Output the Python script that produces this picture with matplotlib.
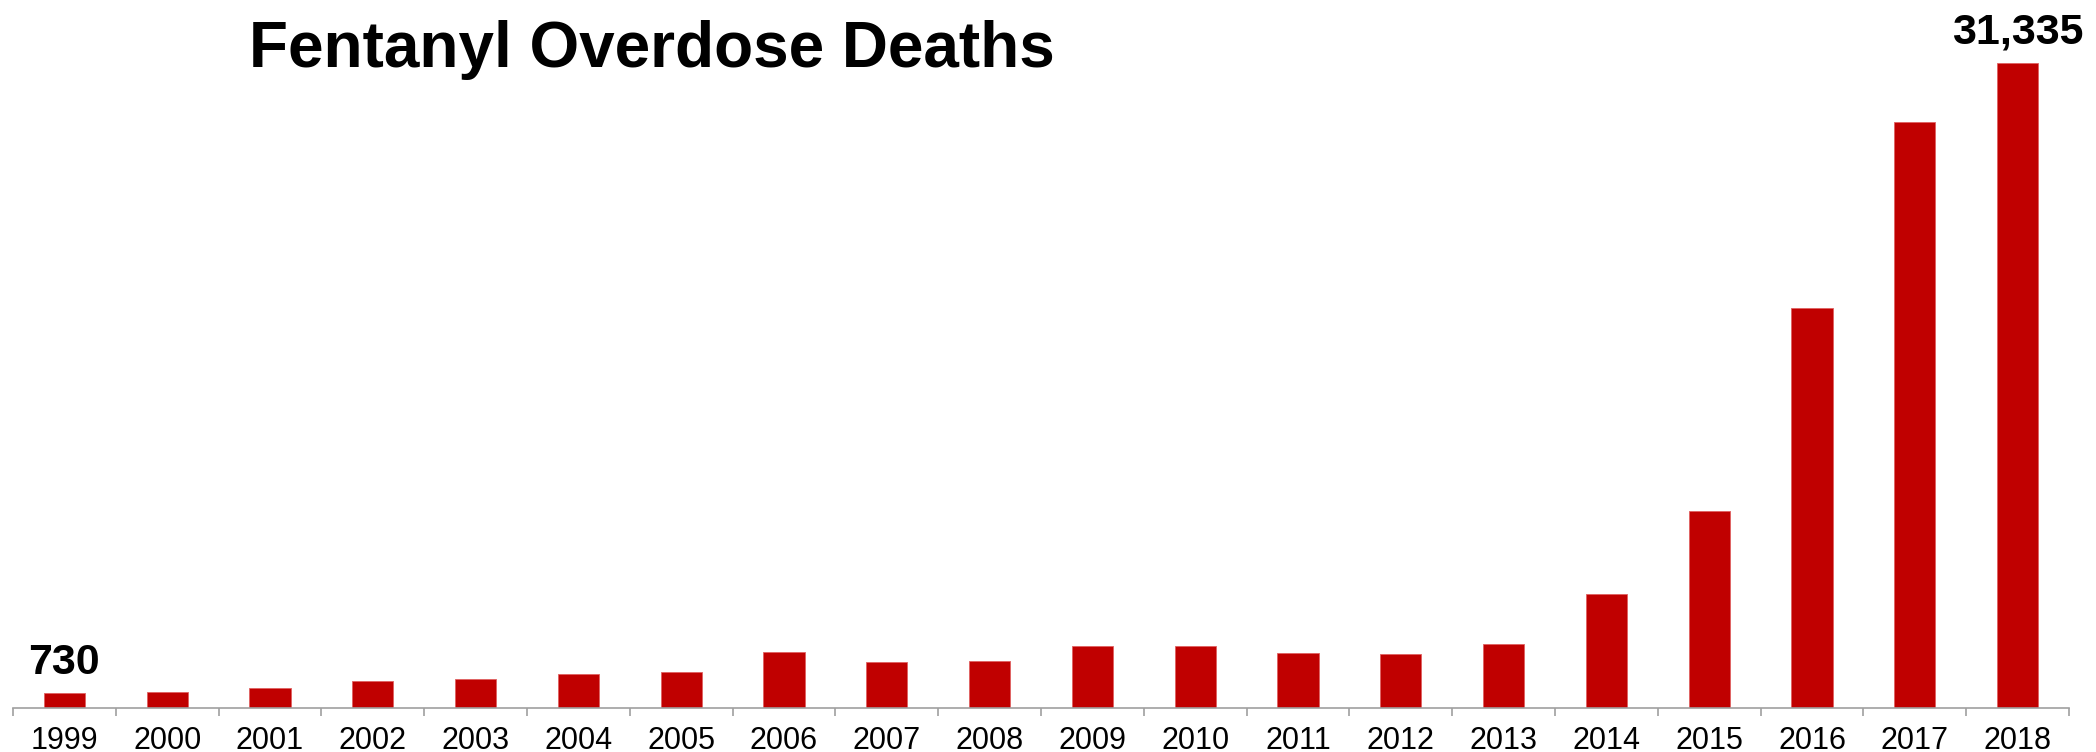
import numpy as np
import matplotlib.pyplot as plt
from matplotlib.ticker import FixedLocator

years = [str(y) for y in range(1999, 2019)]
deaths = [730, 782, 957, 1295, 1400, 1664, 1742, 2707, 2213, 2306,
          3007, 3007, 2666, 2628, 3105, 5544, 9580, 19413, 28466, 31335]
labelled = {0: "730", 19: "31,335"}

bar_color = "#C00000"
axis_gray = "#A0A0A0"

fig = plt.figure(figsize=(20.96, 7.52), dpi=100)
ax = fig.add_axes([13 / 2096, 44 / 752, (2069 - 13) / 2096, 0.9898 - 44 / 752])

x = np.arange(len(years))
ax.bar(x, deaths, width=0.4, color=bar_color, edgecolor="#E06060", linewidth=0.6)

ax.set_xlim(-0.5, len(years) - 0.5)
ax.set_ylim(0, 34000)

# value labels for first and last year
for i, txt in labelled.items():
    ax.annotate(txt, (x[i], deaths[i]), xytext=(0, 14), textcoords="offset points",
                ha="center", va="baseline", fontsize=31, fontweight="bold",
                family=["Liberation Sans", "DejaVu Sans"])

for s in ["top", "right", "left"]:
    ax.spines[s].set_visible(False)
ax.spines["bottom"].set_color(axis_gray)
ax.spines["bottom"].set_linewidth(1.2)
ax.set_yticks([])

ax.set_xticks(x)
ax.set_xticklabels(years, family=["Liberation Sans Narrow", "Liberation Sans"], fontsize=22)
ax.tick_params(axis="x", which="major", length=0, pad=13)
ax.xaxis.set_minor_locator(FixedLocator(np.arange(-0.5, len(years), 1.0)))
ax.tick_params(axis="x", which="minor", length=6, width=1.2, color=axis_gray, direction="out")

fig.text(652 / 2096, 1 - 67 / 752, "Fentanyl Overdose Deaths", ha="center", va="baseline",
         fontsize=46, fontweight="bold", family=["Liberation Sans", "DejaVu Sans"])

fig.savefig("out.png", dpi=100)
